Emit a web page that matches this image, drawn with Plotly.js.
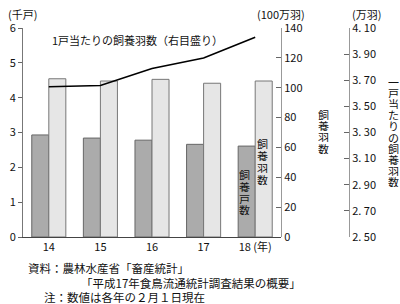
<!DOCTYPE html>
<html><head><meta charset="utf-8">
<script src="https://cdn.plot.ly/plotly-3.0.1.min.js"></script>
<style>html,body{margin:0;padding:0;background:#fff;}#chart{width:400px;height:304px;}</style>
</head><body><div id="chart"></div>
<script>
// ---- data ----
const years = ['14', '15', '16', '17', '18'];
const yearLabels = ['14', '15', '16', '17', '18 (年)'];
const households = [2.93, 2.84, 2.78, 2.66, 2.61];        // 千戸 (left axis)
const birds = [106, 104.5, 105.6, 103, 104.5];            // 100万羽 (middle axis)
const perHousehold = [3.65, 3.66, 3.79, 3.87, 4.03];      // 万羽 (right axis)
const rightTickVals = [2.5, 2.7, 2.9, 3.1, 3.3, 3.5, 3.7, 3.9, 4.1];
const rightTickText = ['2. 50', '2. 70', '2. 90', '3. 10', '3. 30', '3. 50', '3. 70', '3. 90', '4. 10'];

// ---- layout helpers (pixel -> paper) ----
const W = 400, H = 304, ML = 23, MR = 51, MT = 28, MB = 67;
const PW = W - ML - MR, PH = H - MT - MB;
const P = px => (px - ML) / PW;
const Q = py => (H - MB - py) / PH;
const FONT = '"Noto Sans CJK JP", "Noto Sans", sans-serif';
const ann = [];
function txt(s, x, y, size, xa, h) {
  const a = {text: s, x: P(x), y: Q(y), xref: 'paper', yref: 'paper', showarrow: false,
    xanchor: xa || 'center', yanchor: 'middle', font: {family: FONT, size: size || 11, color: '#111'}};
  if (h) { a.height = h; a.borderpad = 0; }
  ann.push(a);
}
function vtxt(s, x, y0, step, size) {
  Array.from(s).forEach((c, i) => txt(c, x, y0 + i * step, size, 'center', Math.floor(step) - 1));
}
txt('(千戸)', 22, 14, 11);
txt('(100万羽)', 281, 14, 11);
txt('(万羽)', 366, 14, 11);
txt('1戸当たりの飼養羽数（右目盛り）', 50, 40, 11, 'left');
vtxt('飼養羽数', 323, 115, 11.2, 11);
vtxt('一戸当たりの飼養羽数', 393, 82, 11.1, 11);
vtxt('飼養羽数', 262, 143, 12, 11);
vtxt('飼養戸数', 244, 175, 11.8, 11);
txt('資料：農林水産省「畜産統計」', 27, 267, 11.5, 'left', 13);
txt('「平成17年食鳥流通統計調査結果の概要」', 80, 282, 11.5, 'left', 13);
txt('注：数値は各年の２月１日現在', 43, 296, 11.5, 'left', 13);

const traces = [
  {type: 'bar', x: years, y: households, yaxis: 'y', width: 0.33, offset: -0.33,
   marker: {color: '#ababab', line: {color: '#666', width: 1}}, hoverinfo: 'none'},
  {type: 'bar', x: years, y: birds, yaxis: 'y2', width: 0.33, offset: 0,
   marker: {color: '#e6e6e6', line: {color: '#777', width: 1}}, hoverinfo: 'none'},
  {type: 'scatter', mode: 'lines', x: years, y: perHousehold, yaxis: 'y3',
   line: {color: '#000', width: 1.6}, hoverinfo: 'none'}
];
const axFont = {family: FONT, size: 11, color: '#111'};
const layout = {
  width: W, height: H, margin: {l: ML, r: MR, t: MT, b: MB, pad: 0},
  paper_bgcolor: '#fff', plot_bgcolor: 'rgba(0,0,0,0)',
  showlegend: false, barmode: 'overlay',
  xaxis: {domain: [0, (281 - ML) / PW], range: [-0.5, 4.5], type: 'category',
    tickvals: years, ticktext: yearLabels, ticks: '', showline: true, linecolor: '#444',
    linewidth: 1, showgrid: false, zeroline: false, tickfont: axFont, fixedrange: true},
  yaxis: {range: [0, 6], dtick: 1, ticks: 'outside', ticklen: 4, tickcolor: '#666',
    showline: true, linecolor: '#777', showgrid: false, zeroline: false, tickfont: axFont},
  yaxis2: {overlaying: 'y', side: 'right', anchor: 'free', position: (281 - ML) / PW,
    range: [0, 140], dtick: 20, ticks: 'inside', ticklen: 5, tickcolor: '#666',
    showline: true, linecolor: '#999', showgrid: false, zeroline: false, tickfont: axFont},
  yaxis3: {overlaying: 'y', side: 'right', anchor: 'free', position: 1,
    range: [2.5, 4.1], tickvals: rightTickVals, ticktext: rightTickText, ticks: 'inside',
    ticklen: 5, tickcolor: '#666', showline: true, linecolor: '#999', showgrid: false,
    zeroline: false, tickfont: axFont},
  annotations: ann
};
Plotly.newPlot('chart', traces, layout, {staticPlot: true, displayModeBar: false});
</script></body></html>
